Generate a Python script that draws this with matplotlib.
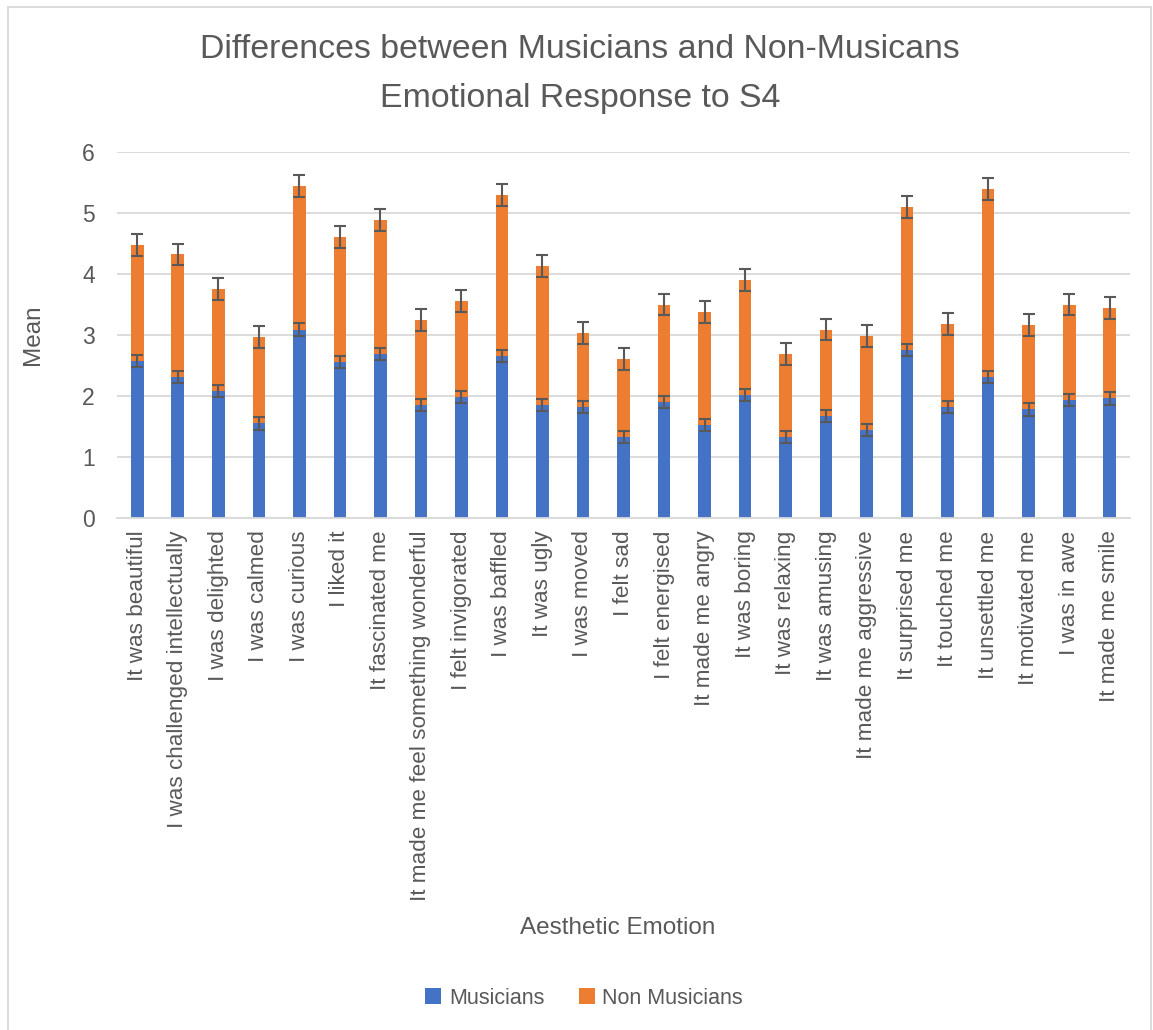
"""Stacked bar chart: musicians vs non-musicians emotional response to S4."""
import matplotlib
matplotlib.use("Agg")
import matplotlib.pyplot as plt
from matplotlib.patches import Rectangle, Patch
import numpy as np

FONT = "Liberation Sans"
C_TEXT = "#595959"
C_GRID = "#D9D9D9"
C_MUS = "#4472C4"
C_NON = "#ED7D31"
C_ERR = "#595959"

emotions = [
    "It was beautiful", "I was challenged intellectually", "I was delighted",
    "I was calmed", "I was curious", "I liked it", "It fascinated me",
    "It made me feel something wonderful", "I felt invigorated", "I was baffled",
    "It was ugly", "I was moved", "I felt sad", "I felt energised",
    "It made me angry", "It was boring", "It was relaxing", "It was amusing",
    "It made me aggressive", "It surprised me", "It touched me",
    "It unsettled me", "It motivated me", "I was in awe", "It made me smile",
]
musicians = [2.57, 2.31, 2.08, 1.55, 3.09, 2.56, 2.69, 1.85, 1.99, 2.65,
             1.85, 1.82, 1.33, 1.90, 1.53, 2.01, 1.33, 1.67, 1.44, 2.76,
             1.82, 2.31, 1.78, 1.94, 1.96]
non_musicians = [1.91, 2.01, 1.67, 1.41, 2.36, 2.04, 2.19, 1.40, 1.57, 2.65,
                 2.28, 1.21, 1.28, 1.60, 1.85, 1.89, 1.36, 1.42, 1.55, 2.34,
                 1.36, 3.08, 1.38, 1.56, 1.48]
musicians_err = [0.10] * 25
non_musicians_err = [0.18] * 25
y_ticks = [0, 1, 2, 3, 4, 5, 6]

W, H = 1153, 1030
fig = plt.figure(figsize=(W / 100, H / 100), dpi=100)
fig.patch.set_facecolor("white")

# chart border (Excel chart area)
fig.add_artist(Rectangle((8 / W, -0.01), (1151 - 8) / W, 1 - 7 / H + 0.01,
                         transform=fig.transFigure, facecolor="none",
                         edgecolor=C_GRID, linewidth=1.3))

ax = fig.add_axes([117 / W, 1 - 518 / H, (1130 - 117) / W, (518 - 152) / H])
x = np.arange(len(emotions))
bw = 0.31
err_kw = dict(ecolor=C_ERR, elinewidth=1.5, capsize=4.5, capthick=1.5)
ax.bar(x, musicians, bw, color=C_MUS, yerr=musicians_err,
       error_kw=err_kw, label="Musicians")
ax.bar(x, non_musicians, bw, bottom=musicians, color=C_NON,
       yerr=non_musicians_err, error_kw=err_kw, label="Non Musicians")

ax.set_xlim(-0.5, len(emotions) - 0.5)
ax.set_ylim(0, 6)
ax.set_yticks(y_ticks)
ax.yaxis.grid(True, color=C_GRID, linewidth=1.3)
ax.set_axisbelow(True)
for s in ["top", "right", "left"]:
    ax.spines[s].set_visible(False)
ax.spines["bottom"].set_color(C_GRID)
ax.spines["bottom"].set_linewidth(1.3)
ax.tick_params(length=0, colors=C_TEXT)
ax.set_xticks(x)
ax.set_xticklabels(emotions, rotation=90, fontsize=16.2, fontfamily=FONT,
                   color=C_TEXT, va="top", ha="center")
ax.tick_params(axis="x", pad=9)
ax.tick_params(axis="y", pad=16)
for lbl in ax.get_yticklabels():
    lbl.set_fontsize(16.5)
    lbl.set_fontfamily(FONT)
    lbl.set_color(C_TEXT)

fig.text(580 / W, 1 - 50 / H, "Differences between Musicians and Non-Musicans",
         ha="center", va="center", fontsize=24.4, fontfamily=FONT, color=C_TEXT)
fig.text(580 / W, 1 - 98 / H, "Emotional Response to S4",
         ha="center", va="center", fontsize=24.4, fontfamily=FONT, color=C_TEXT)
fig.text(33 / W, 1 - 335 / H, "Mean", rotation=90, ha="center", va="center",
         fontsize=17.5, fontfamily=FONT, color=C_TEXT)
fig.text(618 / W, 1 - 928 / H, "Aesthetic Emotion", ha="center", va="center",
         fontsize=17.5, fontfamily=FONT, color=C_TEXT)

handles = [Patch(facecolor=C_MUS), Patch(facecolor=C_NON)]
fig.legend(handles, ["Musicians", "Non Musicians"], loc="center",
           bbox_to_anchor=(584 / W, 1 - 998 / H), ncol=2, frameon=False,
           prop={"family": FONT, "size": 15.5}, labelcolor=C_TEXT,
           handlelength=0.75, handleheight=0.75, handletextpad=0.35,
           columnspacing=1.6)

fig.savefig("out.png", dpi=100)
